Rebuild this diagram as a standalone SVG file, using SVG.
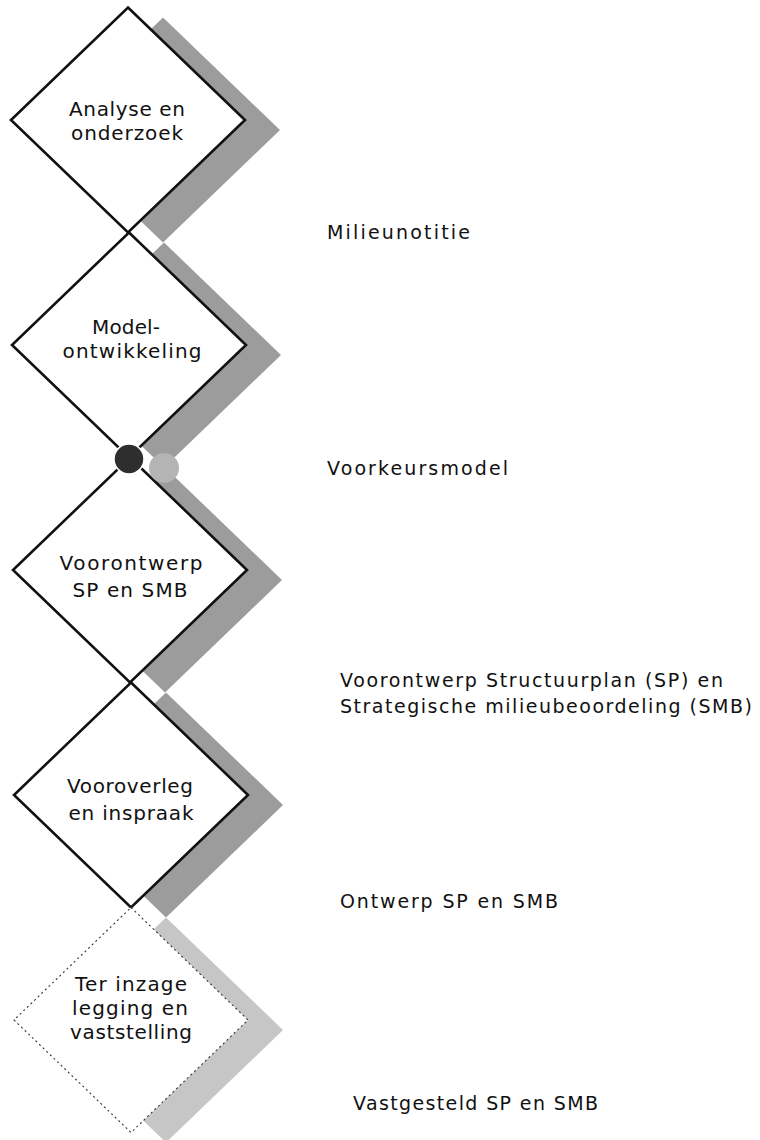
<svg xmlns="http://www.w3.org/2000/svg" xmlns:xlink="http://www.w3.org/1999/xlink" width="760" height="1140" viewBox="0 0 760 1140">
<style>
.box{fill:#fff;stroke:#111;stroke-width:2.6;stroke-linejoin:miter}
.boxd{fill:#fff;stroke:#333;stroke-width:1.1;stroke-dasharray:2 3}
.sh{fill:#9c9c9c}
.shl{fill:#c6c6c6}
.t{font-family:"DejaVu Sans","Open Sans",sans-serif;font-size:20px;fill:#111;text-anchor:middle}
.l{font-family:"DejaVu Sans","Open Sans",sans-serif;font-size:19px;fill:#111}
</style>
<defs>
<polygon id="dia" points="0,-112.5 117,0 0,112.5 -117,0"/>
</defs>
<rect width="760" height="1140" fill="#fff"/>

<g id="n1" transform="translate(128,120)">
<use xlink:href="#dia" class="sh" x="35" y="10"/>
<use xlink:href="#dia" class="box"/>
<text class="t" x="-1" y="-4" textLength="116" lengthAdjust="spacing">Analyse en</text>
<text class="t" x="-1" y="20" textLength="112" lengthAdjust="spacing">onderzoek</text>
</g>

<g id="n2" transform="translate(129,345)">
<use xlink:href="#dia" class="sh" x="35" y="10"/>
<use xlink:href="#dia" class="box"/>
<text class="t" x="-3" y="-11" textLength="68" lengthAdjust="spacing">Model-</text>
<text class="t" x="3" y="13" textLength="139" lengthAdjust="spacing">ontwikkeling</text>
</g>

<g id="n3" transform="translate(130,570)">
<use xlink:href="#dia" class="sh" x="35" y="10"/>
<use xlink:href="#dia" class="box"/>
<text class="t" x="1" y="0" textLength="143" lengthAdjust="spacing">Voorontwerp</text>
<text class="t" x="0" y="27" textLength="115" lengthAdjust="spacing">SP en SMB</text>
</g>

<g id="n4" transform="translate(131,795)">
<use xlink:href="#dia" class="sh" x="35" y="10"/>
<use xlink:href="#dia" class="box"/>
<text class="t" x="-1" y="-2" textLength="126" lengthAdjust="spacing">Vooroverleg</text>
<text class="t" x="0" y="25" textLength="125" lengthAdjust="spacing">en inspraak</text>
</g>

<g id="n5" transform="translate(131,1020)">
<use xlink:href="#dia" class="shl" x="35" y="10"/>
<use xlink:href="#dia" class="boxd"/>
<text class="t" x="0" y="-29" textLength="112" lengthAdjust="spacing">Ter inzage</text>
<text class="t" x="-1" y="-5" textLength="116" lengthAdjust="spacing">legging en</text>
<text class="t" x="0" y="19" textLength="122" lengthAdjust="spacing">vaststelling</text>
</g>

<g id="connectors">
<g id="milestone">
<circle cx="164" cy="468" r="15" fill="#b4b4b4"/>
<circle cx="129" cy="459" r="15" fill="#2e2e2e" stroke="#fff" stroke-width="1.5"/>
</g>
</g>

<g id="labels">
<text id="lab1" class="l" x="327" y="239" textLength="143" lengthAdjust="spacing">Milieunotitie</text>
<text id="lab2" class="l" x="327" y="475" textLength="181" lengthAdjust="spacing">Voorkeursmodel</text>
<text id="lab3" class="l" x="340" y="687" textLength="383" lengthAdjust="spacing">Voorontwerp Structuurplan (SP) en</text>
<text id="lab3b" class="l" x="340" y="713" textLength="412" lengthAdjust="spacing">Strategische milieubeoordeling (SMB)</text>
<text id="lab4" class="l" x="340" y="908" textLength="218" lengthAdjust="spacing">Ontwerp SP en SMB</text>
<text id="lab5" class="l" x="353" y="1110" textLength="245" lengthAdjust="spacing">Vastgesteld SP en SMB</text>
</g>
</svg>
